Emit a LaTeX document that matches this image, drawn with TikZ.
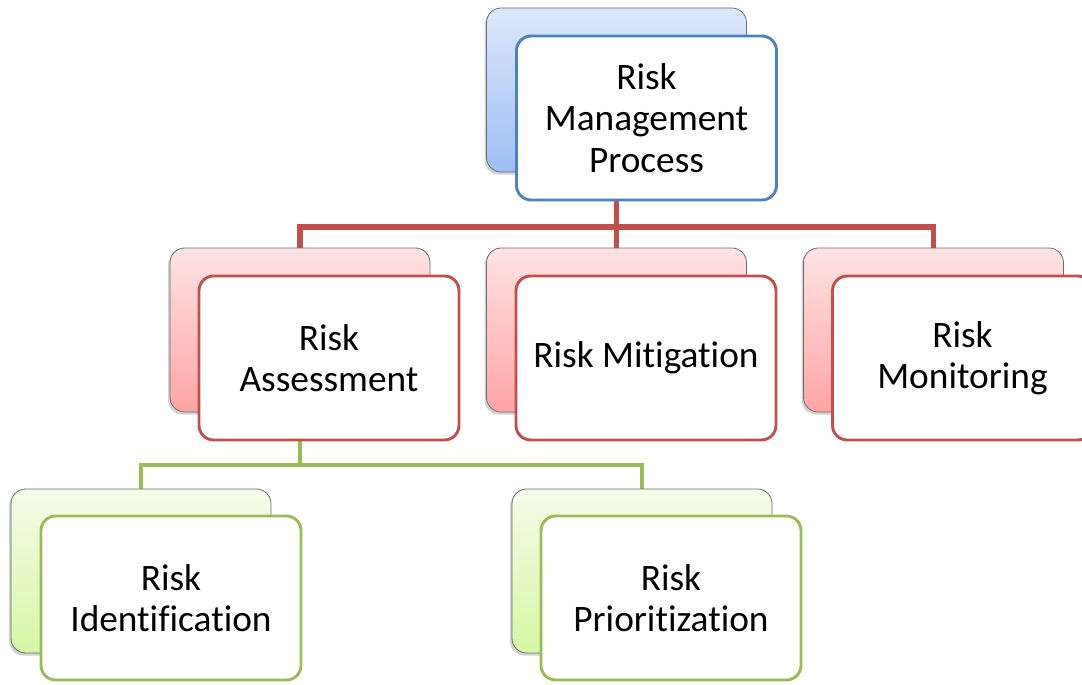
\documentclass[tikz,border=0pt]{standalone}
\usepackage{fontspec}
\setmainfont{Carlito}[RawFeature={-liga;-clig;-dlig;-calt}]
\usetikzlibrary{shadows, backgrounds}
\definecolor{blueline}{HTML}{4F81BD}
\definecolor{bluetop}{HTML}{DDE8FB}
\definecolor{bluebot}{HTML}{9DBEF5}
\definecolor{redline}{HTML}{C0504D}
\definecolor{redtop}{HTML}{FDE3E3}
\definecolor{redbot}{HTML}{FFA4A4}
\definecolor{greenline}{HTML}{9BBB59}
\definecolor{greentop}{HTML}{F4FDE9}
\definecolor{greenbot}{HTML}{D7F6A4}

\begin{document}
\begin{tikzpicture}[x=0.75pt, y=-0.75pt,
    cardbox/.style={rectangle, rounded corners=11pt, minimum width=195pt, minimum height=123pt, inner sep=0pt},
    backbox/.style 2 args={cardbox, draw=gray!85!black, line width=0.6pt, top color=#1, bottom color=#2,
      drop shadow={shadow xshift=-1.5pt, shadow yshift=-2pt, opacity=0.35}},
    frontbox/.style={cardbox, draw=#1, line width=2.2pt, fill=white, align=center,
      font=\fontsize{28}{31}\selectfont},
    treeline/.style={draw=#1, line width=3.8pt}]
  \useasboundingbox (0,0) rectangle (1082,685);

  % shadow cards
  \node[backbox={bluetop}{bluebot}] (processback) at (616.5,90) {};
  \node[backbox={redtop}{redbot}] (assessback) at (300,330) {};
  \node[backbox={redtop}{redbot}] (mitigback) at (616.5,330) {};
  \node[backbox={redtop}{redbot}] (monitback) at (933.5,330) {};
  \node[backbox={greentop}{greenbot}] (identback) at (141,571) {};
  \node[backbox={greentop}{greenbot}] (priorback) at (642,571) {};

  % front cards
  \node[frontbox=blueline] (process) at (646.5,118) {Risk\\Management\\Process};
  \node[frontbox=redline] (assess) at (329,358) {Risk\\Assessment};
  \node[frontbox=redline] (mitig) at (646,358) {Risk Mitigation};
  \node[frontbox=redline] (monit) at (962.5,358) {Risk\\Monitoring};
  \node[frontbox=greenline] (ident) at (171,598) {Risk\\Identification};
  \node[frontbox=greenline] (prior) at (671,598) {Risk\\Prioritization};

  \coordinate (redfork) at (616.5,227);
  \coordinate (greenfork) at (300,465);

  \begin{scope}[on background layer]
    \draw[treeline=redline] (processback.center) -- (redfork) -- (mitigback.north);
    \draw[treeline=redline] (assessback.north) |- (redfork) -| (monitback.north);
    \draw[treeline=greenline, line width=3pt] (assessback.center) -- (greenfork);
    \draw[treeline=greenline, line width=3pt] (identback.north) |- (greenfork) -| (priorback.north);
  \end{scope}
\end{tikzpicture}
\end{document}
